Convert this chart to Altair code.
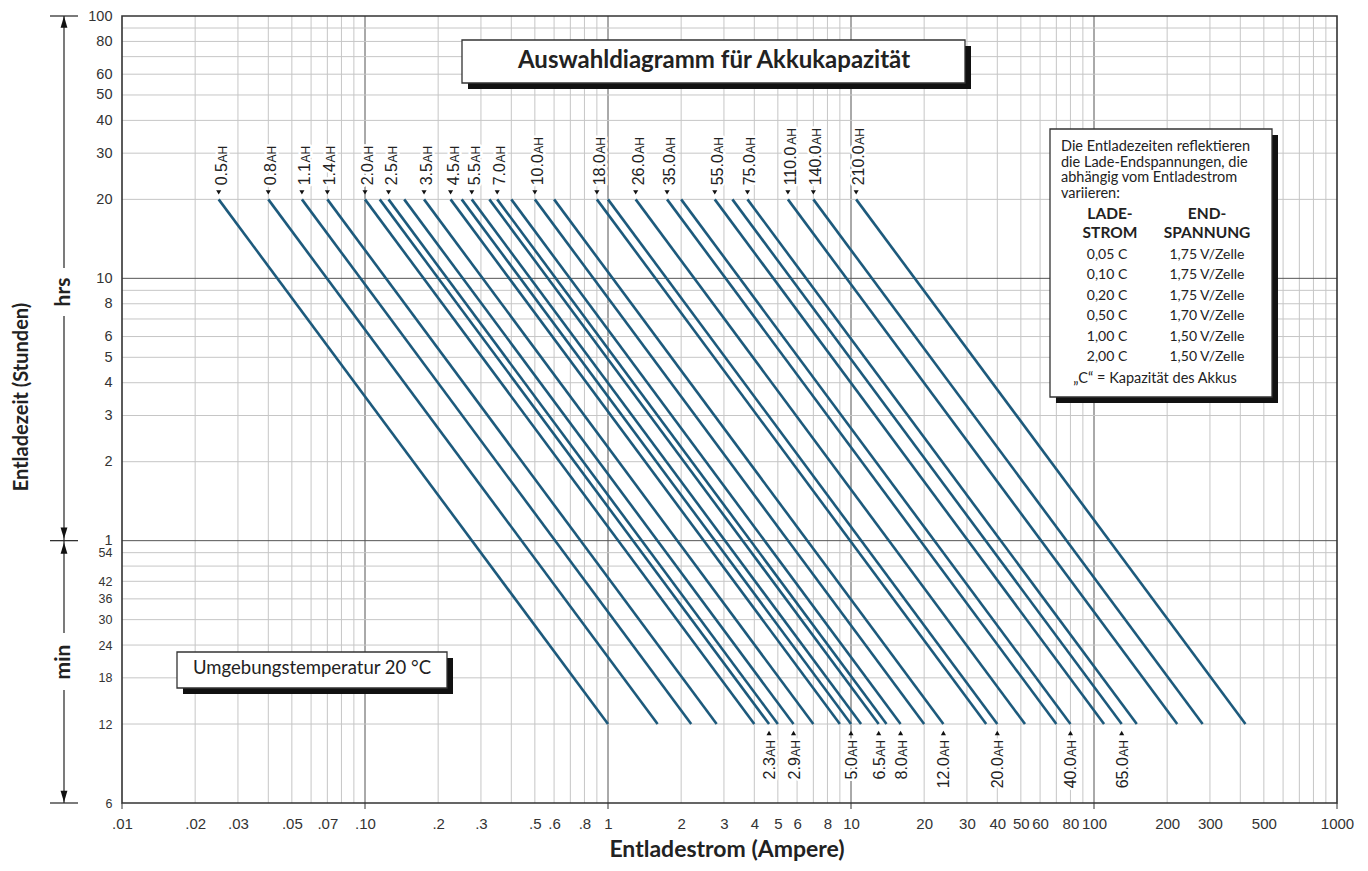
import altair as alt
import pandas as pd

# ---------------- data ----------------
capacity_ah = [0.5, 0.8, 1.1, 1.4, 2.0, 2.3, 2.5, 2.9, 3.5, 4.5, 5.0, 5.5, 6.5, 7.0,
               8.0, 10.0, 12.0, 18.0, 20.0, 26.0, 35.0, 40.0, 55.0, 65.0, 75.0,
               110.0, 140.0, 210.0]
current_at_20h = [0.025, 0.04, 0.055, 0.07, 0.10, 0.115, 0.125, 0.145, 0.175, 0.225,
                  0.25, 0.275, 0.325, 0.35, 0.40, 0.50, 0.60, 0.90, 1.0, 1.3, 1.75,
                  2.0, 2.75, 3.25, 3.75, 5.5, 7.0, 10.5]
current_at_12min = [1.0, 1.6, 2.2, 2.8, 4.0, 4.6, 5.0, 5.8, 7.0, 9.0, 10.0, 11.0, 13.0,
                    14.0, 16.0, 20.0, 24.0, 36.0, 40.0, 52.0, 70.0, 80.0, 110.0, 130.0,
                    150.0, 220.0, 280.0, 420.0]
time_top_h = 20.0
time_bottom_h = 0.2  # 12 min

top_label_caps = [0.5, 0.8, 1.1, 1.4, 2.0, 2.5, 3.5, 4.5, 5.5, 7.0, 10.0, 18.0, 26.0,
                  35.0, 55.0, 75.0, 110.0, 140.0, 210.0]
bottom_label_caps = [2.3, 2.9, 5.0, 6.5, 8.0, 12.0, 20.0, 40.0, 65.0]

x_tick_values = [0.01, 0.02, 0.03, 0.05, 0.07, 0.1, 0.2, 0.3, 0.5, 0.6, 0.8, 1, 2, 3, 4,
                 5, 6, 8, 10, 20, 30, 40, 50, 60, 80, 100, 200, 300, 500, 1000]
x_tick_labels = [".01", ".02", ".03", ".05", ".07", ".10", ".2", ".3", ".5", ".6", ".8",
                 "1", "2", "3", "4", "5", "6", "8", "10", "20", "30", "40", "50", "60",
                 "80", "100", "200", "300", "500", "1000"]
y_hour_ticks = [100, 80, 60, 50, 40, 30, 20, 10, 8, 6, 5, 4, 3, 2, 1]
y_minute_ticks = [54, 42, 36, 30, 24, 18, 12, 6]

x_major_grid = [0.1, 1, 10, 100]
x_minor_grid = [m * 10.0 ** e for e in range(-2, 3) for m in range(2, 10)]
y_major_grid = [1, 10]
y_minor_grid = [m * 10.0 ** e for e in range(-1, 2) for m in range(2, 10)]
x_decade_ticks = [0.01, 0.1, 1, 10, 100, 1000]

title_text = "Auswahldiagramm für Akkukapazität"
temp_text = "Umgebungstemperatur 20 °C"
legend_intro = ["Die Entladezeiten reflektieren", "die Lade-Endspannungen, die",
                "abhängig vom Entladestrom", "variieren:"]
legend_head_left = ["LADE-", "STROM"]
legend_head_right = ["END-", "SPANNUNG"]
legend_rate = ["0,05 C", "0,10 C", "0,20 C", "0,50 C", "1,00 C", "2,00 C"]
legend_voltage = ["1,75 V/Zelle", "1,75 V/Zelle", "1,75 V/Zelle", "1,70 V/Zelle",
                  "1,50 V/Zelle", "1,50 V/Zelle"]
legend_note = "„C“ = Kapazität des Akkus"
x_title = "Entladestrom (Ampere)"
y_title = "Entladezeit (Stunden)"

# ---------------- styling / layout ----------------
PX0, PY0 = 122, 16          # page position of the plot's top-left corner
W, H = 1215, 787
PAD = {"left": PX0 - 8, "top": PY0 - 8, "right": 22, "bottom": 60}


def px(x):
    return x - PX0


def py(y):
    return y - PY0


NUM_FONT = "Liberation Sans, Arial, sans-serif"
BOX_FONT = "Lato, Open Sans, sans-serif"
LINE_COLOR = "#1d5a7c"
TXT = "#222222"
NUM_SIZE, AH_SIZE = 16, 12
DIGIT_W, DOT_W = 0.556 * NUM_SIZE, 0.278 * NUM_SIZE
AH_W = (0.667 + 0.722) * AH_SIZE

xs = alt.Scale(type="log", domain=[0.01, 1000], nice=False)
ys = alt.Scale(type="log", domain=[0.1, 100], nice=False)

x_expr = "''"
for v, l in reversed(list(zip(x_tick_values, x_tick_labels))):
    x_expr = f"abs(datum.value - {v}) < {v}*1e-6 ? '{l}' : ({x_expr})"

xaxis = alt.Axis(values=x_tick_values, labelExpr=x_expr, title=None, grid=False,
                 ticks=False, domain=False, labelPadding=13, labelFont=NUM_FONT,
                 labelFontSize=15, labelColor="#333", labelOverlap=False,
                 labelFlush=False, labelBound=False)
y_vals = y_hour_ticks + [m / 60 for m in y_minute_ticks]
yaxis = alt.Axis(values=y_vals,
                 labelExpr="datum.value > 0.95 ? format(datum.value, '~g') : format(datum.value * 60, '.0f')",
                 title=None, grid=False, ticks=False, domain=False, labelPadding=10,
                 labelFont=NUM_FONT,
                 labelFontSize={"condition": {"test": "datum.value < 0.95", "value": 12.5}, "value": 14.5},
                 labelColor="#333", labelOverlap=False, labelFlush=False)


def X(f):
    return alt.X(f, type="quantitative", scale=xs, axis=xaxis)


def Y(f):
    return alt.Y(f, type="quantitative", scale=ys, axis=yaxis)


one = pd.DataFrame({"k": [0]})
layers = []

# grid
for vals, col in [(x_minor_grid, "#c6c6c6"), (x_major_grid, "#555555")]:
    layers.append(alt.Chart(pd.DataFrame({"v": vals})).mark_rule(color=col, strokeWidth=1)
                  .encode(x=X("v"), y=alt.value(0), y2=alt.value(H)))
for vals, col in [(y_minor_grid, "#c6c6c6"), (y_major_grid, "#555555")]:
    layers.append(alt.Chart(pd.DataFrame({"v": vals})).mark_rule(color=col, strokeWidth=1)
                  .encode(y=Y("v"), x=alt.value(0), x2=alt.value(W)))
layers.append(alt.Chart(pd.DataFrame({"v": x_decade_ticks})).mark_rule(color="#333", strokeWidth=1)
              .encode(x=X("v"), y=alt.value(H), y2=alt.value(H + 6)))

# battery lines
rows = []
for c, a, b in zip(capacity_ah, current_at_20h, current_at_12min):
    rows.append({"cap": c, "current": a, "hours": time_top_h})
    rows.append({"cap": c, "current": b, "hours": time_bottom_h})
lines_df = pd.DataFrame(rows)
layers.append(alt.Chart(lines_df).mark_line(color=LINE_COLOR, strokeWidth=2.6)
              .encode(x=X("current"), y=Y("hours"), detail="cap:N"))

# labels
top_df = pd.DataFrame({
    "current": [current_at_20h[capacity_ah.index(c)] for c in top_label_caps],
    "hours": [time_top_h] * len(top_label_caps),
    "num": [f"{c:.1f}" for c in top_label_caps],
})
bot_df = pd.DataFrame({
    "current": [current_at_12min[capacity_ah.index(c)] for c in bottom_label_caps],
    "hours": [time_bottom_h] * len(bottom_label_caps),
    "num": [f"{c:.1f}" for c in bottom_label_caps],
})


def num_w(n):
    return (n - 1) * DIGIT_W + DOT_W


for halo in (True, False):
    sty = dict(stroke="white", strokeWidth=5, color="white", strokeJoin="round") if halo else dict(color=TXT)
    layers.append(alt.Chart(top_df).mark_text(angle=270, align="left", baseline="alphabetic",
                                              dx=14, dy=8, fontSize=NUM_SIZE, font=NUM_FONT, **sty)
                  .encode(x=X("current"), y=Y("hours"), text="num:N"))
    for n in (3, 4, 5):
        layers.append(alt.Chart(top_df).transform_filter(f"length(datum.num) == {n}")
                      .mark_text(angle=270, align="left", baseline="alphabetic",
                                 dx=14 + num_w(n) + 0.5, dy=8, fontSize=AH_SIZE, font=NUM_FONT,
                                 text="AH", **sty)
                      .encode(x=X("current"), y=Y("hours")))
    layers.append(alt.Chart(bot_df).mark_text(angle=270, align="right", baseline="alphabetic",
                                              dx=-(16 + AH_W + 0.5), dy=6, fontSize=NUM_SIZE,
                                              font=NUM_FONT, **sty)
                  .encode(x=X("current"), y=Y("hours"), text="num:N"))
    layers.append(alt.Chart(bot_df).mark_text(angle=270, align="right", baseline="alphabetic",
                                              dx=-16, dy=6, fontSize=AH_SIZE, font=NUM_FONT,
                                              text="AH", **sty)
                  .encode(x=X("current"), y=Y("hours")))

layers.append(alt.Chart(top_df).mark_point(shape="triangle-down", filled=True, size=26,
                                           color="#111", opacity=1, yOffset=-7)
              .encode(x=X("current"), y=Y("hours")))
layers.append(alt.Chart(bot_df).mark_point(shape="triangle-up", filled=True, size=26,
                                           color="#111", opacity=1, yOffset=9)
              .encode(x=X("current"), y=Y("hours")))

# plot frame
layers.append(alt.Chart(one).mark_rect(fillOpacity=0, stroke="#333", strokeWidth=1.6)
              .encode(x=alt.value(0), x2=alt.value(W), y=alt.value(0), y2=alt.value(H)))


def prect(x1, y1, x2, y2, fill, stroke=None, sw=0):
    kw = dict(fill=fill)
    if stroke:
        kw.update(stroke=stroke, strokeWidth=sw)
    return (alt.Chart(one).mark_rect(**kw)
            .encode(x=alt.value(px(x1)), x2=alt.value(px(x2)),
                    y=alt.value(py(y1)), y2=alt.value(py(y2))))


def ptext(text, x, y, size, weight="normal", align="center", baseline="alphabetic",
          angle=0, font=BOX_FONT, color=TXT):
    return (alt.Chart(one).mark_text(text=text, align=align, baseline=baseline, angle=angle,
                                     fontSize=size, fontWeight=weight, font=font, color=color)
            .encode(x=alt.value(px(x)), y=alt.value(py(y))))


def shadow_box(x1, y1, x2, y2, off=6):
    return [prect(x1 + off, y1 + off, x2 + off, y2 + off, "#111111"),
            prect(x1, y1, x2, y2, "white", "#333333", 1.3)]


# title box (page coordinates)
layers += shadow_box(462, 40, 965, 83)
layers.append(ptext(title_text, 714, 67.5, 24, weight="bold"))

# temperature box
layers += shadow_box(177, 652, 447, 688)
layers.append(ptext(temp_text, 193, 674, 18.5, align="left"))

# legend box
layers += shadow_box(1050, 129, 1272, 397)
for i, t in enumerate(legend_intro):
    layers.append(ptext(t, 1061, 151 + i * 15.5, 14.5, align="left"))
for i, (a, b) in enumerate(zip(legend_head_left, legend_head_right)):
    layers.append(ptext(a, 1110, 219 + i * 19, 15.5, weight="bold"))
    layers.append(ptext(b, 1207, 219 + i * 19, 15.5, weight="bold"))
for i, (a, b) in enumerate(zip(legend_rate, legend_voltage)):
    layers.append(ptext(a, 1107, 259 + i * 20.4, 14))
    layers.append(ptext(b, 1207, 259 + i * 20.4, 14))
layers.append(ptext(legend_note, 1155, 383, 14.5))

# hrs / min arrows on the left (page coordinates)
AXP = 64
Y1H = PY0 + H * 2 / 3
YB = PY0 + H
for y1, y2 in [(PY0, 268), (316, Y1H), (Y1H, 633), (690, YB)]:
    layers.append(alt.Chart(one).mark_rule(color="#222", strokeWidth=1.2)
                  .encode(x=alt.value(px(AXP)), y=alt.value(py(y1)), y2=alt.value(py(y2))))
for yy in (PY0, Y1H, YB):
    layers.append(alt.Chart(one).mark_rule(color="#222", strokeWidth=1.2)
                  .encode(x=alt.value(px(AXP - 14)), x2=alt.value(px(AXP + 14)), y=alt.value(py(yy))))
UP = "M0,-1L0.6,1L-0.6,1Z"
DOWN = "M0,1L0.6,-1L-0.6,-1Z"
for shp, yy in [(UP, PY0 + 6), (DOWN, Y1H - 7.5), (UP, Y1H + 7.5), (DOWN, YB - 6.5)]:
    layers.append(alt.Chart(one).mark_point(shape=shp, filled=True, size=130, color="#111", opacity=1)
                  .encode(x=alt.value(px(AXP)), y=alt.value(py(yy))))
layers.append(ptext("hrs", AXP, 292, 21, weight="bold", angle=270, baseline="middle"))
layers.append(ptext("min", AXP, 662, 21, weight="bold", angle=270, baseline="middle"))

# axis titles
layers.append(ptext(y_title, 22, 397, 20, weight="bold", angle=270, baseline="middle"))
layers.append(ptext(x_title, 727, 857, 23, weight="bold"))

chart = alt.layer(*layers).properties(
    width=W, height=H,
    padding=PAD,
    autosize=alt.AutoSizeParams(type="none"),
    background="white",
).configure_view(stroke=None)

chart.save("out.html", embed_options={"renderer": "svg", "actions": False})
